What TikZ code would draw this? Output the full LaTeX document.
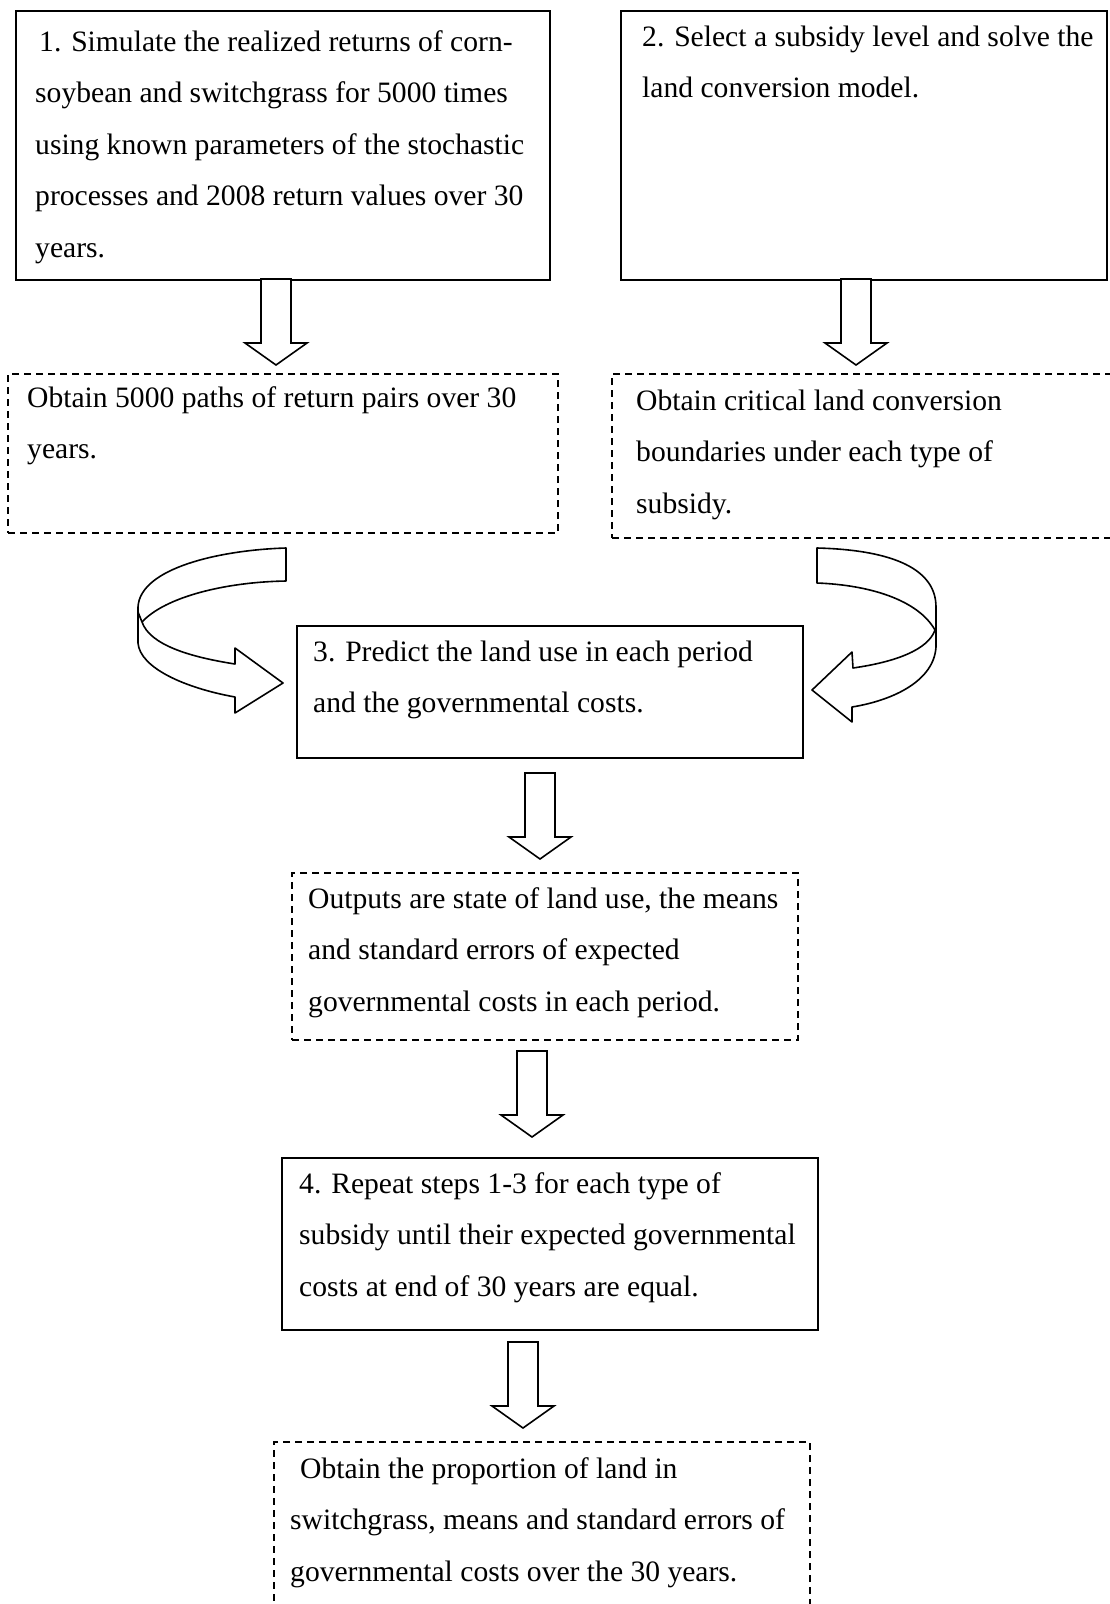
\documentclass[tikz,border=0pt]{standalone}
\usepackage{fontspec}
\setmainfont{Liberation Serif}
\begin{document}
\begin{tikzpicture}[x=1pt,y=-1pt,
  solidbox/.style={draw, line width=1.6pt, anchor=north west, inner sep=0pt, outer sep=0pt},
  dashbox/.style={draw, line width=1.3pt, dash pattern=on 7pt off 5pt, anchor=north west, inner sep=0pt, outer sep=0pt},
  txt/.style={anchor=base west, align=left, inner sep=0pt, font=\fontsize{29.6}{51.5}\selectfont},
  blockarrow/.style={draw, line width=1.6pt, fill=white, line join=miter},
  curvearrow/.style={draw, line width=1.6pt, fill=white, line join=round},
  downarrow/.pic={\draw[blockarrow] (-15,0) -- (15,0) -- (15,64) -- (31,64) -- (0,86) -- (-31,64) -- (-15,64) -- cycle;}
]
\useasboundingbox[fill=white] (0,0) rectangle (1109,1604);

% boxes
\node[solidbox, minimum width=534, minimum height=269] (b1) at (16,11) {};
\node[solidbox, minimum width=486, minimum height=269] (b2) at (621,11) {};
\node[dashbox, minimum width=550, minimum height=159] (bA) at (8,374) {};
\node[dashbox, minimum width=510, minimum height=164] (bB) at (612,374) {};
\node[solidbox, minimum width=506, minimum height=132] (b3) at (297,626) {};
\node[dashbox, minimum width=506, minimum height=167] (bC) at (292,873) {};
\node[solidbox, minimum width=536, minimum height=172] (b4) at (282,1158) {};
\node[dashbox, minimum width=536, minimum height=180] (bD) at (274,1442) {};

% texts (anchored at the baseline of the last line)
\node[txt] (t1) at (35,257) {\hspace{4pt}1. Simulate the realized returns of corn-\\soybean and switchgrass for 5000 times\\using known parameters of the stochastic\\processes and 2008 return values over 30\\years.};
\node[txt] (t2) at (642,97.5) {2. Select a subsidy level and solve the\\land conversion model.};
\node[txt] (tA) at (27,458.5) {Obtain 5000 paths of return pairs over 30\\years.};
\node[txt] (tB) at (636,513) {Obtain critical land conversion\\boundaries under each type of\\subsidy.};
\node[txt] (t3) at (313,712.5) {3. Predict the land use in each period\\and the governmental costs.};
\node[txt] (tC) at (308,1011) {Outputs are state of land use, the means\\and standard errors of expected\\governmental costs in each period.};
\node[txt] (t4) at (299,1296) {4. Repeat steps 1-3 for each type of\\subsidy until their expected governmental\\costs at end of 30 years are equal.};
\node[txt] (tD) at (290,1581) {\hspace{10pt}Obtain the proportion of land in\\switchgrass, means and standard errors of\\governmental costs over the 30 years.};

% straight block arrows
\coordinate (a1) at (276,279);
\coordinate (a2) at (856,279);
\coordinate (a3) at (540,773);
\coordinate (a4) at (532,1051);
\coordinate (a5) at (523,1342);
\pic at (a1) {downarrow};
\pic at (a2) {downarrow};
\pic at (a3) {downarrow};
\pic at (a4) {downarrow};
\pic at (a5) {downarrow};

% curved arrow left (from bA to b3)
\draw[curvearrow] (286,548) .. controls (220,550) and (140,568) .. (138,607)
  -- (138,643) .. controls (140,668) and (185,688) .. (235,697)
  -- (235,713) -- (283,683) -- (235,648) -- (235,664)
  .. controls (190,657) and (150,645) .. (142,622)
  .. controls (165,597) and (225,582) .. (286,581) -- cycle;
\draw[line width=1.6pt] (142,622) -- (138,612);

% curved arrow right (from bB to b3)
\draw[curvearrow] (817,548) .. controls (895,550) and (936,570) .. (936,607)
  -- (936,647) .. controls (934,680) and (895,700) .. (852,707)
  -- (852,722) -- (812,690) -- (852,652) -- (853,668)
  .. controls (895,662) and (928,650) .. (935,630)
  .. controls (918,600) and (870,585) .. (817,583) -- cycle;
\end{tikzpicture}
\end{document}
